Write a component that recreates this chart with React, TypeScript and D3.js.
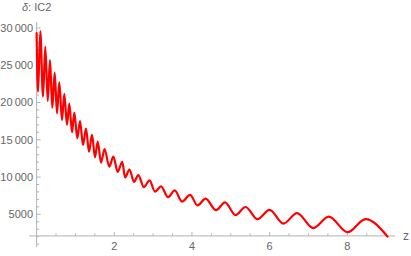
import React from "react";
import * as d3 from "d3";

// Extrema of the curve (z, δ)
const zValues = [
  0, 0.036, 0.095, 0.165, 0.224, 0.286, 0.345, 0.404, 0.466, 0.525, 0.585, 0.654, 0.713,
  0.783, 0.842, 0.912, 0.971, 1.048, 1.118, 1.195, 1.272, 1.349, 1.427, 1.504, 1.574,
  1.659, 1.749, 1.872, 1.975, 2.089, 2.207, 2.277, 2.392, 2.508, 2.619, 2.761, 2.908,
  3.049, 3.204, 3.384, 3.557, 3.745, 3.951, 4.144, 4.35, 4.62, 4.852, 5.122, 5.38,
  5.689, 5.998, 6.353, 6.706, 7.126, 7.523, 8.007, 8.47, 9.037,
];
const deltaValues = [
  29300, 21450, 29600, 20800, 27500, 20200, 25700, 19300, 24000, 18550, 22700, 17650, 21150,
  17000, 19850, 16000, 18650, 15200, 17500, 14300, 16500, 13400, 15650, 12650, 14750,
  11925, 13750, 11400, 12730, 10700, 12050, 9950, 11000, 9350, 10250, 8650, 9550,
  8050, 8750, 7300, 8200, 6700, 7600, 6200, 7100, 5550, 6600, 4900, 5980,
  4350, 5600, 3750, 5150, 3150, 4700, 2600, 4350, 2000,
];

const xMajorTicks = [2, 4, 6, 8];
const xMinorTicks = [0.5, 1, 1.5, 2.5, 3, 3.5, 4.5, 5, 5.5, 6.5, 7, 7.5, 8.5, 9];
const yMajorTicks = [5000, 10000, 15000, 20000, 25000, 30000];
const yMinorTicks = d3.range(1000, 31000, 1000).filter((v) => v % 5000 !== 0);

const xAxisLabel = "z";
const yAxisLabel = "IC2";

const W = 411;
const H = 256;

export default function App() {
  const x = d3.scaleLinear().domain([0, 8]).range([36.6, 347.3]);
  const y = d3.scaleLinear().domain([5000, 30000]).range([214.3, 28]);

  const axisColor = "#b3b3b3";
  const textColor = "#666666";
  const font = "'Liberation Sans', Arial, sans-serif";

  const originY = y(2100);
  const originX = x(0);

  const line = d3
    .line<number>()
    .x((_, i) => x(zValues[i]))
    .y((d) => y(d))
    .curve(d3.curveMonotoneX);

  const fmt = (v: number) =>
    v >= 10000 ? d3.format(",")(v).replace(",", "\u2009") : String(v);

  return (
    <svg
      width={W}
      height={H}
      style={{ position: "absolute", left: 0, top: 0, background: "#fff" }}
    >
      {/* axes lines */}
      <line x1={x(-0.19)} x2={x(9.23)} y1={originY} y2={originY} stroke={axisColor} strokeWidth={1} />
      <line x1={originX} x2={originX} y1={y(610)} y2={y(30800)} stroke={axisColor} strokeWidth={1} />

      {/* x ticks */}
      {xMajorTicks.map((t) => (
        <g key={"xM" + t}>
          <line x1={x(t)} x2={x(t)} y1={originY} y2={originY - 4} stroke={axisColor} />
          <text
            x={x(t)}
            y={originY + 14}
            textAnchor="middle"
            fontSize={11}
            fill={textColor}
            fontFamily={font}
          >
            {t}
          </text>
        </g>
      ))}
      {xMinorTicks.map((t) => (
        <line key={"xm" + t} x1={x(t)} x2={x(t)} y1={originY} y2={originY - 2.5} stroke={axisColor} />
      ))}

      {/* y ticks */}
      {yMajorTicks.map((t) => (
        <g key={"yM" + t}>
          <line x1={originX} x2={originX + 4} y1={y(t)} y2={y(t)} stroke={axisColor} />
          <text
            x={originX - 3.5}
            y={y(t) + 3.8}
            textAnchor="end"
            fontSize={11}
            fill={textColor}
            fontFamily={font}
          >
            {fmt(t)}
          </text>
        </g>
      ))}
      {yMinorTicks.map((t) => (
        <line key={"ym" + t} x1={originX} x2={originX + 2.5} y1={y(t)} y2={y(t)} stroke={axisColor} />
      ))}

      {/* axis labels */}
      <text x={x(9.23) + 8} y={originY + 4} fontSize={12} fill={textColor} fontFamily={font}>
        {xAxisLabel}
      </text>
      <text x={originX} y={10.5} textAnchor="middle" fontSize={11} fill={textColor} fontFamily={font}>
        <tspan fontStyle="italic">δ</tspan>
        <tspan>: {yAxisLabel}</tspan>
      </text>

      {/* curve */}
      <path
        d={line(deltaValues) || ""}
        fill="none"
        stroke="#ff0000"
        strokeWidth={2.2}
        strokeLinejoin="round"
        strokeLinecap="round"
      />
    </svg>
  );
}
